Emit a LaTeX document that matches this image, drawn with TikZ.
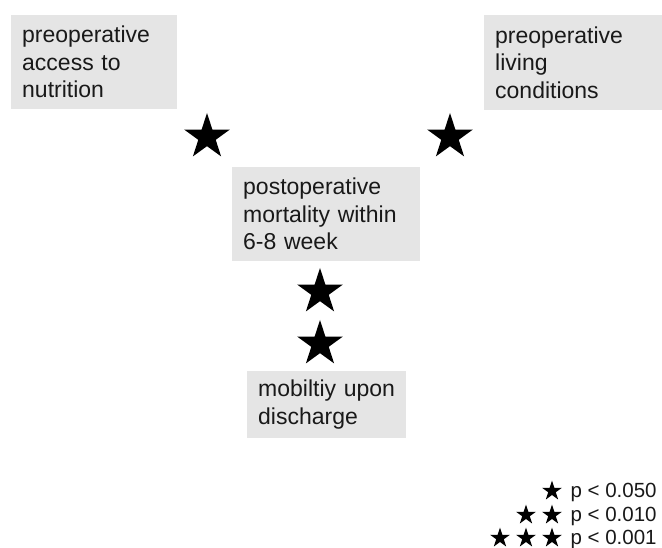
\documentclass[tikz,border=0pt]{standalone}
\usepackage{fontspec}
\setmainfont{Liberation Sans}
\usetikzlibrary{shapes.geometric,positioning}

\begin{document}
\begin{tikzpicture}[
    x=1pt, y=-1pt,
    font=\fontsize{23}{27.5}\selectfont,
    factor/.style={fill=black!10, text=black!90, align=left, anchor=north west,
      inner xsep=11pt, inner ysep=0pt},
    sig/.style={star, star points=5, star point ratio=2.618, fill=black, draw=none,
      inner sep=0pt, minimum size=48pt},
    sigsmall/.style={sig, minimum size=21pt},
    legtext/.style={anchor=base west, text=black!90, font=\fontsize{20.5}{24}\selectfont}
  ]
    \useasboundingbox (0,0) rectangle (662,548);

    \node[factor, text width=144pt, minimum height=94pt] (nutrition) at (11,15)
      {preoperative\\access to\\nutrition};
    \node[factor, text width=156pt, minimum height=95pt] (living) at (484,15)
      {preoperative\\living\\conditions};
    \node[factor, text width=166pt, minimum height=94pt] (mortality) at (232,167)
      {postoperative\\mortality within\\6-8 week};
    \node[factor, text width=137pt, minimum height=67pt] (mobility) at (247,371)
      {mobiltiy upon\\discharge};

    \node[sig] (starL) at (207,137) {};
    \node[sig] (starR) at (450,137) {};
    \node[sig] (starA) at (320,292) {};
    \node[sig] (starB) at (320,344) {};

    % legend
    \foreach \y/\n/\p in {491/1/0.050,515/2/0.010,538/3/0.001} {
      \foreach \k in {1,...,\n} {
        \node[sigsmall] at ({552-(\k-1)*26},\y) {};
      }
      \node[legtext] at (567,\y+6) {p < \p};
    }
  \end{tikzpicture}
\end{document}
